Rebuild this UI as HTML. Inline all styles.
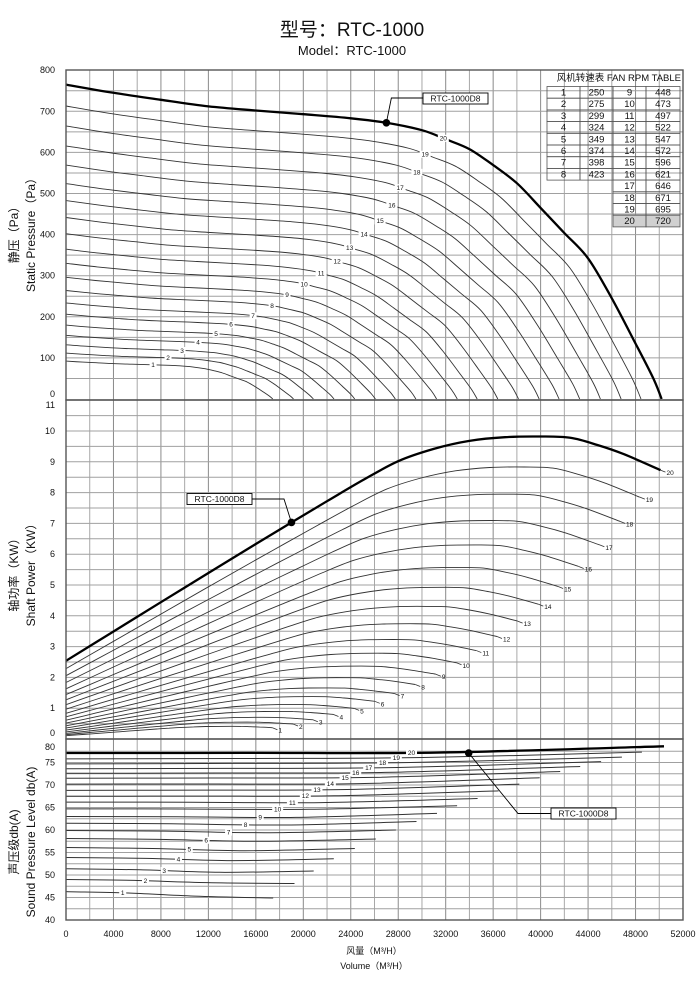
<!DOCTYPE html>
<html><head><meta charset="utf-8"><style>
html,body{margin:0;padding:0;background:#fff;}
svg{display:block;font-family:"Liberation Sans","Noto Sans CJK SC",sans-serif;}
</style></head><body>
<svg id="chart" width="700" height="984" viewBox="0 0 700 984" xmlns="http://www.w3.org/2000/svg">
<text x="352" y="36" font-size="19" text-anchor="middle" fill="#111">型号：RTC-1000</text>
<text x="352" y="55" font-size="13" text-anchor="middle" fill="#111">Model：RTC-1000</text>
<g id="grid"></g>
<g id="curves"></g>
<g id="axes"></g>
<g font-size="12" fill="#111">
<text transform="translate(18,232) rotate(-90)" text-anchor="middle">静压（Pa）</text>
<text transform="translate(35,232) rotate(-90)" text-anchor="middle">Static Pressure（Pa）</text></g>
<g font-size="12" fill="#111">
<text transform="translate(18,572) rotate(-90)" text-anchor="middle">轴功率（KW）</text>
<text transform="translate(35,572) rotate(-90)" text-anchor="middle">Shaft Power（KW）</text></g>
<g font-size="12" fill="#111">
<text transform="translate(18,842) rotate(-90)" text-anchor="middle">声压级db(A)</text>
<text transform="translate(35,842) rotate(-90)" text-anchor="middle">Sound Pressure Level db(A)</text></g>
<text x="374" y="954" font-size="9" text-anchor="middle" fill="#111">风量（M³/H）</text>
<text x="374" y="969" font-size="9" text-anchor="middle" fill="#111">Volume（M³/H）</text>
<g id="table"></g>
<g id="annot"></g>
</svg>
<script>
const rpmTable = [250,275,299,324,349,374,398,423,448,473,497,522,547,572,596,621,646,671,695,720];
const baseRpm = 720;
const pressureFlow20 = [0,4000,8000,12000,16000,20000,24000,27000,30000,32000,34000,36000,38000,40000,42000,44000,46000,48000,49500,50200];
const pressure20 = [765,745,728,712,702,693,683,672,654,632,608,569,525,465,404,342,245,135,50,0];
const powerFlow20 = [0,4000,8000,12000,16000,19000,22000,25000,28000,31000,34000,37000,40000,42500,44750,47000,50100];
const power20 = [2.54,3.49,4.44,5.39,6.33,7.03,7.72,8.4,9.02,9.42,9.68,9.8,9.82,9.78,9.55,9.25,8.73];
const soundStart = [46.3,49.0,51.4,53.9,56.1,58.1,59.9,61.5,63.0,64.7,66.2,67.5,68.8,70.2,71.5,72.6,73.6,74.7,75.8,77.1];
const soundMid = [45.3,48.3,50.6,53.2,55.4,57.5,59.4,61.1,62.8,64.6,66.1,67.6,69.0,70.3,71.7,72.8,73.9,75.0,76.1,77.2];
const soundEnd = [44.9,48.1,50.9,53.6,55.9,58.0,60.0,61.9,63.7,65.4,67.0,68.7,70.2,71.6,73.0,74.1,75.2,76.2,77.3,78.6];
const soundEndFlow = [17460,19260,20880,22570,24340,26110,27800,29540,31270,32960,34690,36460,38200,39920,41650,43340,45100,46850,48540,50400];
const pressureLabelFlow = [7340,8600,9780,11130,12650,13910,15770,17370,18630,20070,21500,22850,23900,25120,26470,27460,28160,29570,30270,31800];
const soundLabelFlow = [4780,6700,8280,9480,10390,11810,13700,15130,16370,17840,19080,20170,21150,22280,23520,24420,25510,26680,27840,29120];
const xTicks = [0,4000,8000,12000,16000,20000,24000,28000,32000,36000,40000,44000,48000,52000];
const pTicks = [0,100,200,300,400,500,600,700,800];
const kTicks = [0,1,2,3,4,5,6,7,8,9,10,11];
const dTicks = [40,45,50,55,60,65,70,75,80];
const markPressure = [27000,672];
const markPower = [19000,7.03];
const markSound = [33940,77.1];

const NS="http://www.w3.org/2000/svg";
const X0=66,X1=683;
const xs=v=>X0+v*(X1-X0)/52000;
const yp=v=>399-v*0.411;
const yk=v=>739-v*30.8;
const yd=v=>920-(v-40)*4.5;
function mk(tag,attrs,parent){const e=document.createElementNS(NS,tag);for(const k in attrs)e.setAttribute(k,attrs[k]);parent.appendChild(e);return e;}
const G=document.getElementById('grid'),C=document.getElementById('curves'),A=document.getElementById('axes'),T=document.getElementById('table'),N=document.getElementById('annot');

function crPath(pts){let d="M"+pts[0][0].toFixed(1)+","+pts[0][1].toFixed(1);
 for(let i=0;i<pts.length-1;i++){const p0=pts[Math.max(0,i-1)],p1=pts[i],p2=pts[i+1],p3=pts[Math.min(pts.length-1,i+2)];
  const c1=[p1[0]+(p2[0]-p0[0])/6,p1[1]+(p2[1]-p0[1])/6],c2=[p2[0]-(p3[0]-p1[0])/6,p2[1]-(p3[1]-p1[1])/6];
  d+="C"+c1[0].toFixed(1)+","+c1[1].toFixed(1)+" "+c2[0].toFixed(1)+","+c2[1].toFixed(1)+" "+p2[0].toFixed(1)+","+p2[1].toFixed(1);}
 return d;}
function interp(pts,x){for(let i=0;i<pts.length-1;i++){if(x>=pts[i][0]&&x<=pts[i+1][0]){const t=(x-pts[i][0])/(pts[i+1][0]-pts[i][0]||1);return pts[i][1]+t*(pts[i+1][1]-pts[i][1]);}}return pts[pts.length-1][1];}

for(let v=0;v<=52000;v+=2000){const l=mk('line',{x1:xs(v),x2:xs(v),y1:70,y2:920,stroke:(v%4000===0)?'#8a8a8a':'#a8a8a8','stroke-width':1},G);
 }
for(let v=50;v<800;v+=50){const l=mk('line',{x1:X0,x2:X1,y1:yp(v),y2:yp(v),stroke:'#a0a0a0','stroke-width':1},G);}
for(let v=0.5;v<11;v+=0.5){const l=mk('line',{x1:X0,x2:X1,y1:yk(v),y2:yk(v),stroke:'#a0a0a0','stroke-width':1},G);}
for(let v=42.5;v<80;v+=2.5){const l=mk('line',{x1:X0,x2:X1,y1:yd(v),y2:yd(v),stroke:'#a0a0a0','stroke-width':1},G);}

[[70,400],[400,739],[739,920]].forEach(([a,b],i)=>{const r=mk('rect',{x:X0,y:a,width:X1-X0,height:b-a,fill:'none',stroke:'#555','stroke-width':1.4},A);
 });

xTicks.forEach(v=>{const t=mk('text',{x:xs(v),y:937,'font-size':9,'text-anchor':'middle',fill:'#111'},A);t.textContent=v;});
pTicks.forEach(v=>{let y=yp(v)+3;if(v===0)y-=5;const t=mk('text',{x:55,y:y,'font-size':9,'text-anchor':'end',fill:'#111'},A);t.textContent=v;});
kTicks.forEach(v=>{let y=yk(v)+3;if(v===0)y-=6;if(v===11)y+=5;const t=mk('text',{x:55,y:y,'font-size':9,'text-anchor':'end',fill:'#111'},A);t.textContent=v;});
dTicks.forEach(v=>{let y=yd(v)+3;if(v===80)y+=7;const t=mk('text',{x:55,y:y,'font-size':9,'text-anchor':'end',fill:'#111'},A);t.textContent=v;});

function label(x,y,txt,parent){const w=txt.length*4+3;
 const r=mk('rect',{x:x-w/2,y:y-3.5,width:w,height:7,fill:'#fff'},parent);
 const t=mk('text',{x:x,y:y+2.3,'font-size':6.5,'text-anchor':'middle',fill:'#111'},parent);t.textContent=txt;}

rpmTable.forEach((rpm,i)=>{const r=rpm/baseRpm,bold=i===rpmTable.length-1;
 const sw=bold?2.3:0.9,col=bold?'#000':'#333';
 const pp=pressureFlow20.map((f,j)=>[f*r,pressure20[j]*r*r]);
 const p1=mk('path',{d:crPath(pp.map(q=>[xs(q[0]),yp(q[1])])),fill:'none',stroke:col,'stroke-width':sw},C);
 
 const lf=pressureLabelFlow[i];label(xs(lf),yp(interp(pp,lf)),String(i+1),C);
 const kp=powerFlow20.map((f,j)=>[f*r,power20[j]*r*r*r]);
 const p2=mk('path',{d:crPath(kp.map(q=>[xs(q[0]),yk(q[1])])),fill:'none',stroke:col,'stroke-width':sw},C);
 
 const e=kp[kp.length-1],ex=xs(e[0]),ey=yk(e[1]);
 const ld=mk('line',{x1:ex,y1:ey,x2:ex+5,y2:ey+2,stroke:'#333','stroke-width':0.8},C);
 const tl=mk('text',{x:ex+6,y:ey+5,'font-size':6.5,fill:'#111'},C);tl.textContent=String(i+1);
 const ef=soundEndFlow[i];
 const sp=[[0,soundStart[i]],[ef*0.3,soundStart[i]-(soundStart[i]-soundMid[i])*0.3],[ef*0.62,soundMid[i]],[ef,soundEnd[i]]];
 const p3=mk('path',{d:crPath(sp.map(q=>[xs(q[0]),yd(q[1])])),fill:'none',stroke:col,'stroke-width':bold?2.3:1},C);
 
 const sf=soundLabelFlow[i];label(xs(sf),yd(interp(sp,sf)),String(i+1),C);
});

function annot(dot,pathD,bx,by,name){const c=mk('circle',{cx:dot[0],cy:dot[1],r:3.8,fill:'#000'},N);
 const p=mk('path',{d:pathD,fill:'none',stroke:'#000','stroke-width':0.9},N);
 const r=mk('rect',{x:bx,y:by,width:65,height:11,fill:'#fff',stroke:'#000','stroke-width':0.9},N);
 const t=mk('text',{x:bx+32.5,y:by+8.5,'font-size':8.5,'text-anchor':'middle',fill:'#111'},N);t.textContent='RTC-1000D8';}
{const d=[xs(markPressure[0]),yp(markPressure[1])];annot(d,`M${d[0]},${d[1]} L${d[0]+5},98 L423,98`,423,93,'pressure-model');}
{const d=[xs(markPower[0]),yk(markPower[1])];annot(d,`M${d[0]},${d[1]} L284,499 L252,499`,187,493.5,'power-model');}
{const d=[xs(markSound[0]),yd(markSound[1])];annot(d,`M${d[0]},${d[1]} L518,813.5 L551,813.5`,551,808,'sound-model');}

{const h=mk('text',{x:681,y:81,'font-size':9.5,'text-anchor':'end',fill:'#111'},T);h.textContent='风机转速表  FAN  RPM  TABLE';
 const cols=[547,580,613,646,680],top=86.5,rh=11.7;
 rpmTable.forEach((rpm,i)=>{let c0,row;if(i<8){c0=0;row=i;}else{c0=2;row=i-8;}
  const y=top+row*rh;
  if(i===19){const bg=mk('rect',{x:cols[2],y:y,width:cols[4]-cols[2],height:rh,fill:'#d0d0d0'},T);}
  for(let k=0;k<2;k++){const r=mk('rect',{x:cols[c0+k],y:y,width:cols[c0+k+1]-cols[c0+k],height:rh,fill:'none',stroke:'#555','stroke-width':0.8},T);}
  const t1=mk('text',{x:(cols[c0]+cols[c0+1])/2,y:y+9,'font-size':9.5,'text-anchor':'middle',fill:'#111'},T);t1.textContent=String(i+1);
  const t2=mk('text',{x:(cols[c0+1]+cols[c0+2])/2,y:y+9,'font-size':9.5,'text-anchor':'middle',fill:'#111'},T);t2.textContent=String(rpm);
 });}
</script>
</body></html>
